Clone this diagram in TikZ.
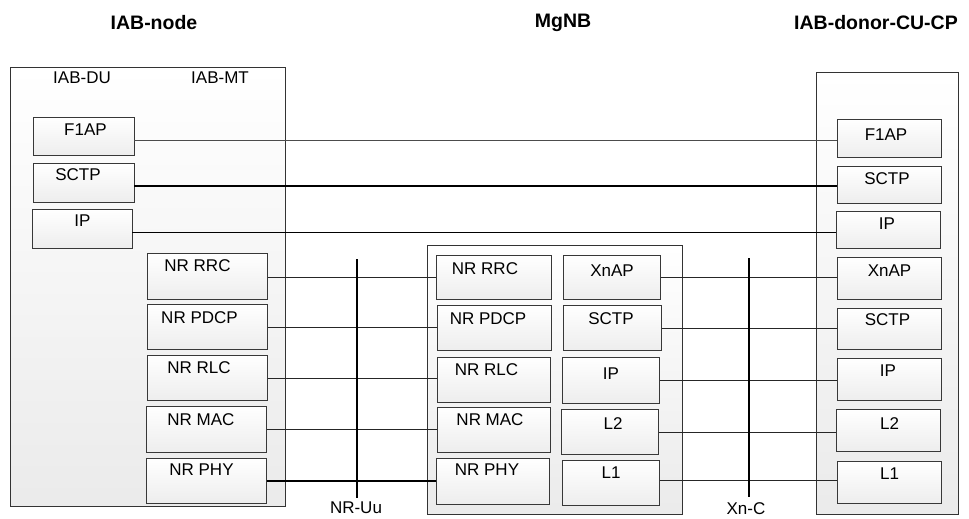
\documentclass[tikz,border=0pt]{standalone}
\usepackage{fontspec}
\setmainfont{Liberation Sans}
\begin{document}
\begin{tikzpicture}[x=1pt,y=-1pt]
\tikzset{
  big/.style={draw=black!80, line width=1pt, top color=white, bottom color=black!8, inner sep=0, anchor=north west},
  box/.style={draw=black!78, line width=1pt, top color=white, bottom color=black!7, inner sep=0, anchor=north west},
  lab/.style={anchor=north, inner sep=0, font=\fontsize{17}{20}\selectfont},
  ttl/.style={inner sep=0, font=\fontsize{19.5}{22}\selectfont\bfseries},
  conn/.style={draw=black!85, line width=0.9pt},
  connthick/.style={draw=black, line width=2.3pt},
  iface/.style={draw=black, line width=1.8pt}
}
\newcommand\bx[8]{\node[box, minimum width=#4pt, minimum height=#5pt,
  label={[lab,xshift=#7pt,yshift=-#8pt]north:#6}] (#1) at (#2,#3) {};}
\useasboundingbox (0,0) rectangle (969,519);
% titles
\node[ttl] (t1) at (154,23) {IAB-node};
\node[ttl] (t2) at (563,23) {MgNB};
\node[ttl] (t3) at (876,23) {IAB-donor-CU-CP};
% big boxes
\node[big, minimum width=275pt, minimum height=439pt] (iab) at (10,67) {};
\node[big, minimum width=255pt, minimum height=269pt] (mgnb) at (427,245) {};
\node[big, minimum width=142pt, minimum height=442pt] (donor) at (816,72) {};
\node[lab] (du) at (82,72) {IAB-DU};
\node[lab] (mt) at (220,72) {IAB-MT};
% connector start points on the IAB-DU boxes
\coordinate (f1lE) at (134,140);
\coordinate (sctplE) at (134,186);
\coordinate (iplE) at (132,232.5);
% IAB-DU boxes
\bx{f1l}{33}{117}{101}{38}{F1AP}{1.5}{7}
\bx{sctpl}{33}{163}{101}{39}{SCTP}{-6}{5}
\bx{ipl}{32}{209}{100}{39}{IP}{0}{6}
% IAB-MT boxes
\bx{rrcl}{147}{253}{120}{46}{NR RRC}{-10}{6}
\bx{pdcpl}{147}{304}{120}{45}{NR PDCP}{-8}{7}
\bx{rlcl}{147}{355}{120}{45}{NR RLC}{-8.5}{6}
\bx{macl}{146}{406}{120}{46}{NR MAC}{-5.5}{7}
\bx{phyl}{146}{458}{120}{45}{NR PHY}{-5}{6}
% MgNB left column
\bx{rrcm}{436}{255}{115}{44}{NR RRC}{-9}{7}
\bx{pdcpm}{437}{305}{114}{45}{NR PDCP}{-6.5}{7}
\bx{rlcm}{437}{357}{113}{45}{NR RLC}{-7.5}{6}
\bx{macm}{437}{407}{113}{45}{NR MAC}{-4}{6}
\bx{phym}{436}{458}{113}{46}{NR PHY}{-6}{6}
% MgNB right column
\bx{xnapm}{563}{255}{97}{44}{XnAP}{0}{10}
\bx{sctpm}{563}{305}{98}{45}{SCTP}{-1.5}{7}
\bx{ipm}{562}{357}{97}{46}{IP}{0}{11}
\bx{ltwom}{561}{409}{97}{45}{L2}{3}{8}
\bx{lonem}{562}{460}{97}{45}{L1}{0}{7}
% donor boxes
\bx{f1r}{837}{119}{104}{38}{F1AP}{-3.5}{10}
\bx{sctpr}{837}{166}{104}{37}{SCTP}{-2.5}{6}
\bx{ipr}{836}{211}{104}{37}{IP}{-1.5}{7}
\bx{xnapr}{837}{257}{104}{42}{XnAP}{0}{8}
\bx{sctpr2}{837}{308}{104}{41}{SCTP}{-2}{5}
\bx{ipr2}{837}{358}{104}{42}{IP}{-1.5}{7}
\bx{ltwor}{836}{409}{104}{42}{L2}{1}{8}
\bx{loner}{837}{461}{104}{42}{L1}{0}{7}
% connectors
\draw[conn, draw=black!70] (f1lE) -- (f1lE -| f1r.west);
\draw[connthick] (sctplE) -- (sctplE -| sctpr.west);
\draw[conn, line width=1pt, draw=black] (iplE) -- (iplE -| ipr.west);
\draw[conn] ([yshift=-1pt]rrcl.east) -- ([yshift=-1pt]rrcl.east -| rrcm.west);
\draw[conn] (pdcpl.east) -- (pdcpl.east -| pdcpm.west);
\draw[conn] (rlcl.east) -- (rlcl.east -| rlcm.west);
\draw[conn] (macl.east) -- (macl.east -| macm.west);
\draw[connthick] (phyl.east) -- (phyl.east -| phym.west);
\draw[conn] (xnapm.east) -- (xnapm.east -| xnapr.west);
\draw[conn] (sctpm.east) -- (sctpm.east -| sctpr2.west);
\draw[conn] (ipm.east) -- (ipm.east -| ipr2.west);
\draw[conn] (ltwom.east) -- (ltwom.east -| ltwor.west);
\draw[conn] ([yshift=3pt]lonem.east) -- ([yshift=3pt]lonem.east -| loner.west);
% interface lines
\coordinate (uuT) at (357,259);
\coordinate (uuB) at (357,498);
\coordinate (xnT) at (749,258);
\coordinate (xnB) at (749,497);
\draw[iface] (uuT) -- (uuB);
\draw[iface] (xnT) -- (xnB);
\node[lab] (uu) at (356,502) {NR-Uu};
\node[lab] (xn) at (746,502) {Xn-C};
\end{tikzpicture}
\end{document}
